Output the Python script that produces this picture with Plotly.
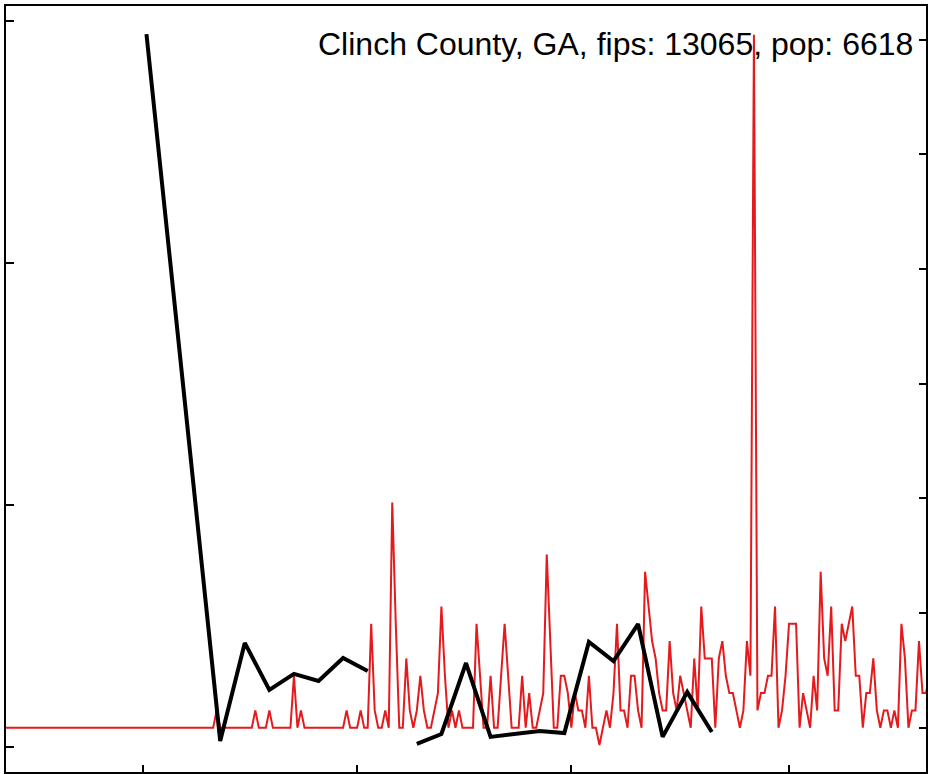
import datetime as dt
import plotly.graph_objects as go

# ---- data ----
start_date = dt.date(2020, 1, 22)
population = 6618
county_label = "Clinch County, GA, fips: 13065, pop: 6618"

# daily new cases (counts), Jan 22 onward
daily_cases = (
    [0] * 60 + [1] + [0] * 10 + [1] + [0] * 3 + [1] + [0] * 6 + [3, 0, 1] + [0] * 12 + [1] + [0] * 3 + [1, 0, 0]
    + [6, 1, 0, 0, 1, 0, 13, 6, 0, 0, 4, 1, 0, 1, 3, 1, 0, 0, 1, 2,
       7, 3, 0, 1, 0, 1, 0, 0, 0, 0, 6, 3, 0, 0, 3, 0, 0, 3, 6, 3,
       0, 0, 0, 3, 0, 2, 0, 0, 1, 2, 10, 5, 0, 0, 3, 3, 2, 0, 2, 1,
       1, 0, 3, 0, 0, -1, 0, 1, 0, 2, 6, 1, 1, 0, 3, 3, 1, 0, 9, 7,
       5, 4, 2, 1, 1, 5, 2, 1, 3, 2, 1, 0, 4, 1, 7, 4, 4, 4, 0, 4,
       5, 3, 2, 2, 1, 0, 1, 5, 3, 40, 1, 2, 2, 3, 3, 7, 0, 1, 3, 6,
       6, 6, 0, 2, 1, 0, 3, 1, 9, 4, 3, 7, 1, 1, 6, 5, 6, 7, 3, 3,
       0, 2, 2, 4, 1, 0, 1, 1, 0, 1, 0, 6, 4, 0, 1, 1, 5, 2, 2, 3]
)
daily_dates = [start_date + dt.timedelta(days=i) for i in range(len(daily_cases))]

weekly_dates = ["2020-03-02", "2020-03-23", "2020-03-30", "2020-04-06", "2020-04-13",
                "2020-04-20", "2020-04-27", "2020-05-04", "2020-05-11", "2020-05-18",
                "2020-05-25", "2020-06-01", "2020-06-08", "2020-06-22", "2020-06-29",
                "2020-07-06", "2020-07-13", "2020-07-20", "2020-07-27", "2020-08-03",
                "2020-08-10"]
weekly_values = [2.945, 0.026, 0.431, 0.237, 0.303, 0.274, 0.369, 0.315, None, 0.014,
                 0.055, 0.348, 0.043, 0.067, 0.059, 0.435, 0.356, 0.509, 0.043, 0.228,
                 0.063]

x_ticks = ["2020-03-01", "2020-05-01", "2020-07-01", "2020-09-01"]
left_ticks = [0, 1, 2, 3]
right_ticks = [0, 100, 200, 300, 400, 500, 600]

per100k = [c / population * 1e5 for c in daily_cases]

fig = go.Figure()
fig.add_trace(go.Scatter(x=daily_dates, y=per100k, mode="lines", yaxis="y",
                         line=dict(color="#e41a1c", width=2), showlegend=False))
fig.add_trace(go.Scatter(x=weekly_dates, y=weekly_values, mode="lines", yaxis="y2",
                         line=dict(color="black", width=4), connectgaps=False,
                         showlegend=False))

axis_common = dict(showline=True, linecolor="black", linewidth=2, ticks="inside",
                   tickcolor="black", tickwidth=2, showticklabels=False,
                   showgrid=False, zeroline=False)

fig.update_layout(
    width=928, height=774,
    margin=dict(l=6, r=2, t=6, b=2, pad=0),
    paper_bgcolor="white", plot_bgcolor="white",
    font=dict(family="Arial, Liberation Sans, sans-serif", color="black"),
    xaxis=dict(type="date", range=["2020-01-22", "2020-10-10"], tickvals=x_ticks,
               mirror=True, ticklen=7, **axis_common),
    yaxis=dict(side="right", range=[-38.6, 629.4], tickvals=right_ticks,
               ticklen=7, **axis_common),
    yaxis2=dict(side="left", overlaying="y", anchor="x", range=[-0.102, 3.061],
                tickvals=left_ticks, ticklen=8, **axis_common),
    annotations=[dict(text=county_label, xref="paper", yref="paper", x=0.988, y=0.9765,
                      xanchor="right", yanchor="top", showarrow=False,
                      font=dict(size=32, color="black"))],
)

fig.write_html("out.html", config={"displayModeBar": False},
               post_script="document.body.style.margin='0';document.body.style.overflow='hidden';")
